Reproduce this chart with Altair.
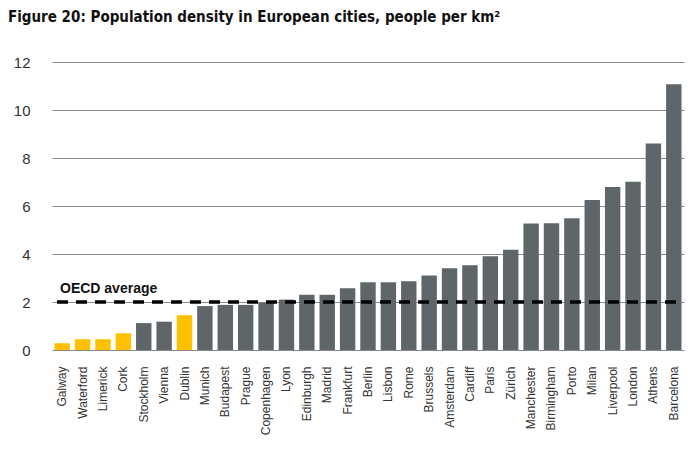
import altair as alt
import pandas as pd

cities = ["Galway", "Waterford", "Limerick", "Cork", "Stockholm", "Vienna", "Dublin",
          "Munich", "Budapest", "Prague", "Copenhagen", "Lyon", "Edinburgh", "Madrid",
          "Frankfurt", "Berlin", "Lisbon", "Rome", "Brussels", "Amsterdam", "Cardiff",
          "Paris", "Zürich", "Manchester", "Birmingham", "Porto", "Milan", "Liverpool",
          "London", "Athens", "Barcelona"]
density = [0.28, 0.45, 0.45, 0.70, 1.12, 1.18, 1.45,
           1.83, 1.88, 1.88, 1.97, 2.10, 2.30, 2.30,
           2.57, 2.82, 2.82, 2.86, 3.10, 3.41, 3.53,
           3.91, 4.18, 5.27, 5.28, 5.49, 6.25, 6.79,
           7.01, 8.60, 11.07]
irish = ["Galway", "Waterford", "Limerick", "Cork", "Dublin"]
oecd_avg = 2.0
y_ticks = [0, 2, 4, 6, 8, 10, 12]

df = pd.DataFrame({"city": cities, "density": density})
df["group"] = ["Ireland" if c in irish else "Other" for c in cities]

bars = alt.Chart(df).mark_bar(width={"band": 0.84}).encode(
    x=alt.X("city:N", sort=cities, title=None,
            axis=alt.Axis(labelAngle=-90, ticks=False, domain=False, labelFontSize=12,
                          labelColor="#333333", labelPadding=16, labelFont="Liberation Sans")),
    y=alt.Y("density:Q", scale=alt.Scale(domain=[0, 12]), title=None,
            axis=alt.Axis(values=y_ticks, ticks=False, domain=False, grid=True,
                          gridColor="#8a8a8a", gridWidth=1, labelFontSize=15,
                          labelColor="#333333", labelPadding=22, labelFont="Liberation Sans")),
    color=alt.Color("group:N", scale=alt.Scale(domain=["Ireland", "Other"],
                                               range=["#FFC000", "#5E6669"]), legend=None),
)

avg_df = pd.DataFrame({"y": [oecd_avg], "label": ["OECD average"]})
rule = alt.Chart(avg_df).mark_rule(color="#000000", strokeWidth=3.5,
                                   strokeDash=[11, 8], strokeDashOffset=-8).encode(y="y:Q")
label = alt.Chart(avg_df).mark_text(align="left", baseline="bottom", dx=0, dy=-6,
                                    fontSize=14, fontWeight="bold", color="#111111",
                                    font="Liberation Sans").encode(
    y="y:Q", x=alt.value(8), text="label:N")

chart = alt.layer(bars, rule, label).properties(
    width=632, height=288,
    autosize=alt.AutoSizeParams(type="none"),
    padding={"left": 44, "top": 54, "right": 8, "bottom": 96},
    title=alt.Title("Figure 20: Population density in European cities, people per km²",
                    anchor="start", frame="group", dx=-44, offset=30, fontSize=15,
                    fontWeight="bold", font="DejaVu Sans Condensed, Roboto Condensed, Roboto, sans-serif",
                    color="#111111"),
).configure_view(stroke=None).configure_axisY(gridCap="butt")

chart.save("out.html", embed_options={"renderer": "svg", "actions": False})
